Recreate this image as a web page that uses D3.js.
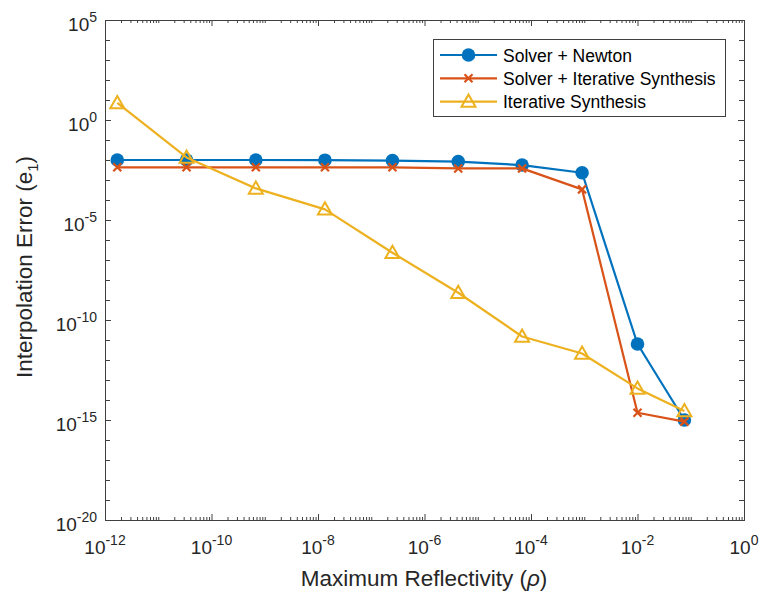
<!DOCTYPE html>
<html>
<head>
<meta charset="utf-8">
<script src="https://cdn.jsdelivr.net/npm/d3@7"></script>
<style>
  html, body { margin: 0; padding: 0; background: #fff; }
  svg { display: block; font-family: "Liberation Sans", Arial, Helvetica, sans-serif; }
</style>
</head>
<body>
<svg id="chart" width="760" height="591"></svg>
<script>
// Maximum reflectivity at each test point
const rho = [1.7e-12, 3.4e-11, 6.8e-10, 1.35e-8, 2.5e-7, 4.3e-6, 6.8e-5, 9.1e-4, 1.0e-2, 7.6e-2];

// Interpolation error e1 for each method
const solverNewton = [1.0e-2, 1.0e-2, 1.0e-2, 9.8e-3, 9.3e-3, 8.3e-3, 5.6e-3, 2.3e-3, 6.3e-12, 1.0e-15];
const solverIterative = [4.3e-3, 4.3e-3, 4.3e-3, 4.3e-3, 4.3e-3, 3.8e-3, 3.8e-3, 3.4e-4, 2.3e-15, 8.3e-16];
const iterativeSynthesis = [7.1, 1.35e-2, 3.8e-4, 3.4e-5, 2.3e-7, 2.3e-9, 1.5e-11, 2.1e-12, 3.8e-14, 2.8e-15];

const seriesNames = ["Solver + Newton", "Solver + Iterative Synthesis", "Iterative Synthesis"];
const seriesColors = ["#0072BD", "#D95319", "#EDB120"];
const seriesMarkers = ["circle", "cross", "triangle"];

// Tick exponents
const xLabelExps = [-12, -10, -8, -6, -4, -2, 0];
const yLabelExps = [5, 0, -5, -10, -15, -20];

const svg = d3.select("#chart");
const L = 105, R = 744, T = 20, B = 520;

const x = d3.scaleLog().domain([1e-12, 1]).range([L, R]);
const y = d3.scaleLog().domain([1e-20, 1e5]).range([B, T]);

const axisColor = "#404040";
const textColor = "#262626";

// Tick sets
const xMinor = [];
for (let e = -12; e < 0; e++) {
  for (let k = 1; k <= 9; k++) {
    const v = k * Math.pow(10, e);
    if (!(k === 1 && e % 2 === 0)) xMinor.push(v);
  }
}
const xMajor = xLabelExps.map(e => Math.pow(10, e));
const yMajor = yLabelExps.map(e => Math.pow(10, e));
const yMinor = d3.range(-20, 6).filter(e => e % 5 !== 0).map(e => Math.pow(10, e));

const g = svg.append("g");

function drawTicks(axisFn, scale, values, len, transform) {
  g.append("g")
    .attr("transform", transform)
    .call(axisFn(scale).tickValues(values).tickSize(len).tickFormat(""))
    .call(s => s.select(".domain").remove())
    .call(s => s.selectAll("line").attr("stroke", axisColor).attr("stroke-width", 1));
}

// Ticks point inward on all four sides
drawTicks(d3.axisTop, x, xMajor, 6, `translate(0,${B})`);
drawTicks(d3.axisTop, x, xMinor, 3, `translate(0,${B})`);
drawTicks(d3.axisBottom, x, xMajor, 6, `translate(0,${T})`);
drawTicks(d3.axisBottom, x, xMinor, 3, `translate(0,${T})`);
drawTicks(d3.axisRight, y, yMajor, 6, `translate(${L},0)`);
drawTicks(d3.axisRight, y, yMinor, 5, `translate(${L},0)`);
drawTicks(d3.axisLeft, y, yMajor, 6, `translate(${R},0)`);
drawTicks(d3.axisLeft, y, yMinor, 5, `translate(${R},0)`);

// Axes box
g.append("rect")
  .attr("x", L + 0.5).attr("y", T + 0.5)
  .attr("width", R - L).attr("height", B - T)
  .attr("fill", "none").attr("stroke", axisColor).attr("stroke-width", 1);

// Power-of-ten labels
function powerLabel(sel, exp) {
  sel.append("tspan").text("10");
  sel.append("tspan").attr("dy", -9).attr("font-size", 14).text(String(exp));
}

xLabelExps.forEach(e => {
  const t = g.append("text")
    .attr("x", x(Math.pow(10, e)))
    .attr("y", 554)
    .attr("text-anchor", "middle")
    .attr("font-size", 19)
    .attr("fill", textColor);
  powerLabel(t, e);
});

yLabelExps.forEach(e => {
  const t = g.append("text")
    .attr("x", 97)
    .attr("y", y(Math.pow(10, e)) + 10.5)
    .attr("text-anchor", "end")
    .attr("font-size", 19)
    .attr("fill", textColor);
  powerLabel(t, e);
});

// Axis titles
const xt = g.append("text")
  .attr("x", 424).attr("y", 586)
  .attr("text-anchor", "middle")
  .attr("font-size", 22.5)
  .attr("fill", textColor);
xt.append("tspan").text("Maximum Reflectivity (");
xt.append("tspan").attr("font-style", "italic").text("ρ");
xt.append("tspan").text(")");

const yt = g.append("text")
  .attr("transform", "translate(32,267) rotate(-90)")
  .attr("text-anchor", "middle")
  .attr("font-size", 22.5)
  .attr("fill", textColor);
yt.append("tspan").text("Interpolation Error (e");
yt.append("tspan").attr("dy", 6).attr("font-size", 15).text("1");
yt.append("tspan").attr("dy", -6).text(")");

// Marker drawing
function drawMarker(sel, type, color, cx, cy) {
  if (type === "circle") {
    sel.append("circle").attr("cx", cx).attr("cy", cy).attr("r", 6.8).attr("fill", color);
  } else if (type === "cross") {
    const s = 4;
    sel.append("path")
      .attr("d", `M${cx - s},${cy - s}L${cx + s},${cy + s}M${cx - s},${cy + s}L${cx + s},${cy - s}`)
      .attr("stroke", color).attr("stroke-width", 2.2).attr("fill", "none");
  } else {
    const h = 7;
    sel.append("path")
      .attr("d", `M${cx},${cy - h}L${cx + h},${cy + h * 0.75}L${cx - h},${cy + h * 0.75}Z`)
      .attr("stroke", color).attr("stroke-width", 2).attr("fill", "none")
      .attr("stroke-linejoin", "miter");
  }
}

const allSeries = [solverNewton, solverIterative, iterativeSynthesis];
const line = d3.line().x(d => x(d[0])).y(d => y(d[1]));

const plot = svg.append("g");
allSeries.forEach((vals, i) => {
  const pts = rho.map((r, j) => [r, vals[j]]);
  const sg = plot.append("g");
  sg.append("path")
    .attr("d", line(pts))
    .attr("fill", "none")
    .attr("stroke", seriesColors[i])
    .attr("stroke-width", 2.2)
    .attr("stroke-linejoin", "round");
  pts.forEach(p => drawMarker(sg, seriesMarkers[i], seriesColors[i], x(p[0]), y(p[1])));
});

// Legend
const lg = svg.append("g");
lg.append("rect")
  .attr("x", 433.5).attr("y", 39.5).attr("width", 292).attr("height", 77)
  .attr("fill", "#fff").attr("stroke", axisColor).attr("stroke-width", 1);
seriesNames.forEach((name, i) => {
  const cy = 55 + i * 23.3;
  lg.append("line")
    .attr("x1", 440).attr("x2", 497).attr("y1", cy).attr("y2", cy)
    .attr("stroke", seriesColors[i]).attr("stroke-width", 2.2);
  drawMarker(lg, seriesMarkers[i], seriesColors[i], 468.5, cy);
  lg.append("text")
    .attr("x", 503).attr("y", cy + 6.5)
    .attr("font-size", 17.5)
    .attr("fill", "#000")
    .text(name);
});
</script>
</body>
</html>
